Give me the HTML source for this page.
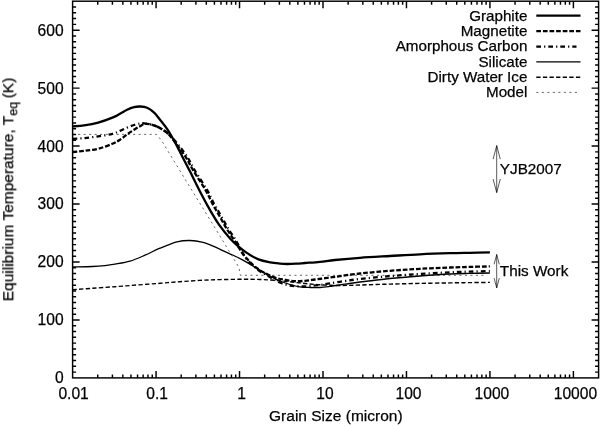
<!DOCTYPE html>
<html lang="en"><head><meta charset="utf-8"><title>Equilibrium Temperature vs Grain Size</title>
<style>html,body{margin:0;padding:0;background:#fff}body{width:600px;height:425px;overflow:hidden}svg{display:block}</style>
</head><body>
<svg width="600" height="425" viewBox="0 0 600 425">
<rect width="600" height="425" fill="#fff"/>
<g stroke="#000" stroke-width="1.45" fill="none">
<rect x="72.60" y="1.20" width="526.00" height="376.70"/>
<path d="M72.60,372.10 h3.50 M598.60,372.10 h-3.50 M72.60,366.31 h3.50 M598.60,366.31 h-3.50 M72.60,360.51 h3.50 M598.60,360.51 h-3.50 M72.60,354.72 h3.50 M598.60,354.72 h-3.50 M72.60,348.92 h3.50 M598.60,348.92 h-3.50 M72.60,343.13 h3.50 M598.60,343.13 h-3.50 M72.60,337.33 h3.50 M598.60,337.33 h-3.50 M72.60,331.54 h3.50 M598.60,331.54 h-3.50 M72.60,325.74 h3.50 M598.60,325.74 h-3.50 M72.60,319.95 h7.00 M598.60,319.95 h-7.00 M72.60,314.15 h3.50 M598.60,314.15 h-3.50 M72.60,308.36 h3.50 M598.60,308.36 h-3.50 M72.60,302.56 h3.50 M598.60,302.56 h-3.50 M72.60,296.76 h3.50 M598.60,296.76 h-3.50 M72.60,290.97 h3.50 M598.60,290.97 h-3.50 M72.60,285.17 h3.50 M598.60,285.17 h-3.50 M72.60,279.38 h3.50 M598.60,279.38 h-3.50 M72.60,273.58 h3.50 M598.60,273.58 h-3.50 M72.60,267.79 h3.50 M598.60,267.79 h-3.50 M72.60,261.99 h7.00 M598.60,261.99 h-7.00 M72.60,256.20 h3.50 M598.60,256.20 h-3.50 M72.60,250.40 h3.50 M598.60,250.40 h-3.50 M72.60,244.61 h3.50 M598.60,244.61 h-3.50 M72.60,238.81 h3.50 M598.60,238.81 h-3.50 M72.60,233.02 h3.50 M598.60,233.02 h-3.50 M72.60,227.22 h3.50 M598.60,227.22 h-3.50 M72.60,221.42 h3.50 M598.60,221.42 h-3.50 M72.60,215.63 h3.50 M598.60,215.63 h-3.50 M72.60,209.83 h3.50 M598.60,209.83 h-3.50 M72.60,204.04 h7.00 M598.60,204.04 h-7.00 M72.60,198.24 h3.50 M598.60,198.24 h-3.50 M72.60,192.45 h3.50 M598.60,192.45 h-3.50 M72.60,186.65 h3.50 M598.60,186.65 h-3.50 M72.60,180.86 h3.50 M598.60,180.86 h-3.50 M72.60,175.06 h3.50 M598.60,175.06 h-3.50 M72.60,169.27 h3.50 M598.60,169.27 h-3.50 M72.60,163.47 h3.50 M598.60,163.47 h-3.50 M72.60,157.68 h3.50 M598.60,157.68 h-3.50 M72.60,151.88 h3.50 M598.60,151.88 h-3.50 M72.60,146.08 h7.00 M598.60,146.08 h-7.00 M72.60,140.29 h3.50 M598.60,140.29 h-3.50 M72.60,134.49 h3.50 M598.60,134.49 h-3.50 M72.60,128.70 h3.50 M598.60,128.70 h-3.50 M72.60,122.90 h3.50 M598.60,122.90 h-3.50 M72.60,117.11 h3.50 M598.60,117.11 h-3.50 M72.60,111.31 h3.50 M598.60,111.31 h-3.50 M72.60,105.52 h3.50 M598.60,105.52 h-3.50 M72.60,99.72 h3.50 M598.60,99.72 h-3.50 M72.60,93.93 h3.50 M598.60,93.93 h-3.50 M72.60,88.13 h7.00 M598.60,88.13 h-7.00 M72.60,82.34 h3.50 M598.60,82.34 h-3.50 M72.60,76.54 h3.50 M598.60,76.54 h-3.50 M72.60,70.74 h3.50 M598.60,70.74 h-3.50 M72.60,64.95 h3.50 M598.60,64.95 h-3.50 M72.60,59.15 h3.50 M598.60,59.15 h-3.50 M72.60,53.36 h3.50 M598.60,53.36 h-3.50 M72.60,47.56 h3.50 M598.60,47.56 h-3.50 M72.60,41.77 h3.50 M598.60,41.77 h-3.50 M72.60,35.97 h3.50 M598.60,35.97 h-3.50 M72.60,30.18 h7.00 M598.60,30.18 h-7.00 M72.60,24.38 h3.50 M598.60,24.38 h-3.50 M72.60,18.59 h3.50 M598.60,18.59 h-3.50 M72.60,12.79 h3.50 M598.60,12.79 h-3.50 M72.60,7.00 h3.50 M598.60,7.00 h-3.50 M97.73,377.90 v-3.50 M97.73,1.20 v3.50 M112.42,377.90 v-3.50 M112.42,1.20 v3.50 M122.85,377.90 v-3.50 M122.85,1.20 v3.50 M130.94,377.90 v-3.50 M130.94,1.20 v3.50 M137.55,377.90 v-3.50 M137.55,1.20 v3.50 M143.14,377.90 v-3.50 M143.14,1.20 v3.50 M147.98,377.90 v-3.50 M147.98,1.20 v3.50 M152.25,377.90 v-3.50 M152.25,1.20 v3.50 M156.07,377.90 v-7.00 M156.07,1.20 v7.00 M181.19,377.90 v-3.50 M181.19,1.20 v3.50 M195.89,377.90 v-3.50 M195.89,1.20 v3.50 M206.32,377.90 v-3.50 M206.32,1.20 v3.50 M214.41,377.90 v-3.50 M214.41,1.20 v3.50 M221.02,377.90 v-3.50 M221.02,1.20 v3.50 M226.60,377.90 v-3.50 M226.60,1.20 v3.50 M231.44,377.90 v-3.50 M231.44,1.20 v3.50 M235.71,377.90 v-3.50 M235.71,1.20 v3.50 M239.53,377.90 v-7.00 M239.53,1.20 v7.00 M264.66,377.90 v-3.50 M264.66,1.20 v3.50 M279.36,377.90 v-3.50 M279.36,1.20 v3.50 M289.79,377.90 v-3.50 M289.79,1.20 v3.50 M297.87,377.90 v-3.50 M297.87,1.20 v3.50 M304.48,377.90 v-3.50 M304.48,1.20 v3.50 M310.07,377.90 v-3.50 M310.07,1.20 v3.50 M314.91,377.90 v-3.50 M314.91,1.20 v3.50 M319.18,377.90 v-3.50 M319.18,1.20 v3.50 M323.00,377.90 v-7.00 M323.00,1.20 v7.00 M348.13,377.90 v-3.50 M348.13,1.20 v3.50 M362.82,377.90 v-3.50 M362.82,1.20 v3.50 M373.25,377.90 v-3.50 M373.25,1.20 v3.50 M381.34,377.90 v-3.50 M381.34,1.20 v3.50 M387.95,377.90 v-3.50 M387.95,1.20 v3.50 M393.54,377.90 v-3.50 M393.54,1.20 v3.50 M398.38,377.90 v-3.50 M398.38,1.20 v3.50 M402.65,377.90 v-3.50 M402.65,1.20 v3.50 M406.47,377.90 v-7.00 M406.47,1.20 v7.00 M431.59,377.90 v-3.50 M431.59,1.20 v3.50 M446.29,377.90 v-3.50 M446.29,1.20 v3.50 M456.72,377.90 v-3.50 M456.72,1.20 v3.50 M464.81,377.90 v-3.50 M464.81,1.20 v3.50 M471.42,377.90 v-3.50 M471.42,1.20 v3.50 M477.00,377.90 v-3.50 M477.00,1.20 v3.50 M481.84,377.90 v-3.50 M481.84,1.20 v3.50 M486.11,377.90 v-3.50 M486.11,1.20 v3.50 M489.93,377.90 v-7.00 M489.93,1.20 v7.00 M515.06,377.90 v-3.50 M515.06,1.20 v3.50 M529.76,377.90 v-3.50 M529.76,1.20 v3.50 M540.19,377.90 v-3.50 M540.19,1.20 v3.50 M548.27,377.90 v-3.50 M548.27,1.20 v3.50 M554.88,377.90 v-3.50 M554.88,1.20 v3.50 M560.47,377.90 v-3.50 M560.47,1.20 v3.50 M565.31,377.90 v-3.50 M565.31,1.20 v3.50 M569.58,377.90 v-3.50 M569.58,1.20 v3.50 M573.40,377.90 v-7.00 M573.40,1.20 v7.00"/>
</g>
<g fill="none" stroke="#000" stroke-linejoin="round">
<path d="M72.60,126.40 C74.52,126.23 79.83,126.03 84.10,125.40 C88.37,124.77 93.48,123.90 98.20,122.60 C102.92,121.30 108.77,119.07 112.40,117.60 C116.03,116.13 117.55,115.12 120.00,113.80 C122.45,112.48 124.75,110.82 127.10,109.70 C129.45,108.58 131.95,107.63 134.10,107.10 C136.25,106.57 137.83,106.40 140.00,106.50 C142.17,106.60 144.75,106.68 147.10,107.70 C149.45,108.72 151.95,110.60 154.10,112.60 C156.25,114.60 157.78,116.92 160.00,119.70 C162.22,122.48 164.92,125.57 167.40,129.30 C169.88,133.03 172.47,137.65 174.90,142.10 C177.33,146.55 179.52,151.17 182.00,156.00 C184.48,160.83 186.93,165.43 189.80,171.10 C192.67,176.77 195.98,183.78 199.20,190.00 C202.42,196.22 205.80,202.63 209.10,208.40 C212.40,214.17 215.47,219.55 219.00,224.60 C222.53,229.65 227.05,235.07 230.30,238.70 C233.55,242.33 235.75,244.03 238.50,246.40 C241.25,248.77 243.47,250.73 246.80,252.90 C250.13,255.07 254.58,257.82 258.50,259.40 C262.42,260.98 266.72,261.70 270.30,262.40 C273.88,263.10 277.22,263.33 280.00,263.60 C282.78,263.87 284.33,263.98 287.00,264.00 C289.67,264.02 293.00,263.87 296.00,263.70 C299.00,263.53 301.00,263.32 305.00,263.00 C309.00,262.68 315.00,262.30 320.00,261.80 C325.00,261.30 328.33,260.67 335.00,260.00 C341.67,259.33 350.83,258.47 360.00,257.80 C369.17,257.13 380.00,256.58 390.00,256.00 C400.00,255.42 410.00,254.77 420.00,254.30 C430.00,253.83 441.67,253.45 450.00,253.20 C458.33,252.95 463.35,252.93 470.00,252.80 C476.65,252.67 486.58,252.47 489.90,252.40" stroke-width="2.3"/>
<path d="M72.60,152.00 C74.52,151.80 79.83,151.35 84.10,150.80 C88.37,150.25 93.48,149.87 98.20,148.70 C102.92,147.53 108.77,145.30 112.40,143.80 C116.03,142.30 117.55,141.27 120.00,139.70 C122.45,138.13 124.75,136.07 127.10,134.40 C129.45,132.73 131.95,131.07 134.10,129.70 C136.25,128.33 138.23,127.15 140.00,126.20 C141.77,125.25 142.93,124.30 144.70,124.00 C146.47,123.70 148.45,123.93 150.60,124.40 C152.75,124.87 155.45,125.82 157.60,126.80 C159.75,127.78 161.73,129.13 163.50,130.30 C165.27,131.47 166.02,131.47 168.20,133.80 C170.38,136.13 173.63,140.33 176.58,144.26 C179.53,148.19 183.10,152.95 185.91,157.37 C188.71,161.79 190.10,165.27 193.41,170.77 C196.71,176.27 202.47,184.75 205.71,190.37 C208.94,195.99 210.46,200.12 212.81,204.47 C215.16,208.82 217.46,212.35 219.81,216.47 C222.16,220.59 224.56,225.29 226.91,229.17 C229.25,233.05 232.14,237.03 233.91,239.77 C235.67,242.51 236.17,243.53 237.50,245.61 C238.84,247.69 240.35,250.10 241.90,252.26 C243.45,254.43 245.02,256.54 246.80,258.60 C248.58,260.66 250.65,262.82 252.60,264.60 C254.55,266.38 256.33,267.83 258.50,269.30 C260.67,270.77 262.85,272.02 265.60,273.40 C268.35,274.78 271.77,276.53 275.00,277.60 C278.23,278.67 281.67,279.20 285.00,279.80 C288.33,280.40 291.67,281.03 295.00,281.20 C298.33,281.37 301.67,281.08 305.00,280.80 C308.33,280.52 311.67,279.93 315.00,279.50 C318.33,279.07 321.67,278.65 325.00,278.20 C328.33,277.75 329.17,277.58 335.00,276.80 C340.83,276.02 350.83,274.50 360.00,273.50 C369.17,272.50 380.00,271.58 390.00,270.80 C400.00,270.02 410.00,269.35 420.00,268.80 C430.00,268.25 441.67,267.82 450.00,267.50 C458.33,267.18 463.35,267.08 470.00,266.90 C476.65,266.72 486.58,266.48 489.90,266.40" stroke-width="2.3" stroke-dasharray="4.7,1.9"/>
<path d="M72.60,138.80 C74.52,138.68 79.83,138.50 84.10,138.10 C88.37,137.70 93.48,137.10 98.20,136.40 C102.92,135.70 108.77,134.82 112.40,133.90 C116.03,132.98 117.55,131.95 120.00,130.90 C122.45,129.85 124.75,128.58 127.10,127.60 C129.45,126.62 131.95,125.67 134.10,125.00 C136.25,124.33 138.35,123.88 140.00,123.60 C141.65,123.32 142.23,123.17 144.00,123.30 C145.77,123.43 148.33,123.82 150.60,124.40 C152.87,124.98 155.45,125.82 157.60,126.80 C159.75,127.78 161.73,129.13 163.50,130.30 C165.27,131.47 165.88,131.56 168.20,133.80 C170.52,136.04 174.27,139.94 177.42,143.74 C180.57,147.55 184.23,152.25 187.09,156.63 C189.96,161.01 191.29,164.53 194.59,170.03 C197.90,175.53 203.66,184.01 206.90,189.63 C210.13,195.25 211.65,199.38 214.00,203.73 C216.34,208.08 218.65,211.61 221.00,215.73 C223.34,219.85 225.75,224.55 228.09,228.43 C230.44,232.31 233.36,236.27 235.09,239.03 C236.83,241.79 237.33,242.74 238.50,244.99 C239.66,247.24 240.72,250.17 242.10,252.54 C243.48,254.91 245.05,257.07 246.80,259.20 C248.55,261.33 250.65,263.47 252.60,265.30 C254.55,267.13 256.33,268.65 258.50,270.20 C260.67,271.75 263.25,273.20 265.60,274.60 C267.95,276.00 270.03,277.20 272.60,278.60 C275.17,280.00 278.10,281.85 281.00,283.00 C283.90,284.15 286.83,284.92 290.00,285.50 C293.17,286.08 296.67,286.42 300.00,286.50 C303.33,286.58 306.67,286.25 310.00,286.00 C313.33,285.75 316.67,285.45 320.00,285.00 C323.33,284.55 325.83,283.97 330.00,283.30 C334.17,282.63 340.00,281.72 345.00,281.00 C350.00,280.28 352.50,279.82 360.00,279.00 C367.50,278.18 380.00,276.93 390.00,276.10 C400.00,275.27 410.00,274.63 420.00,274.00 C430.00,273.37 441.67,272.70 450.00,272.30 C458.33,271.90 463.35,271.80 470.00,271.60 C476.65,271.40 486.58,271.18 489.90,271.10" stroke-width="2.3" stroke-dasharray="4.7,3.1,1.2,3.0"/>
<path d="M72.60,266.90 C75.92,266.83 87.10,266.72 92.50,266.50 C97.90,266.28 101.25,265.98 105.00,265.60 C108.75,265.22 110.83,264.93 115.00,264.20 C119.17,263.47 125.00,262.70 130.00,261.20 C135.00,259.70 140.00,257.37 145.00,255.20 C150.00,253.03 154.67,250.42 160.00,248.20 C165.33,245.98 172.00,243.18 177.00,241.90 C182.00,240.62 185.67,240.42 190.00,240.50 C194.33,240.58 199.17,241.45 203.00,242.40 C206.83,243.35 209.33,244.65 213.00,246.20 C216.67,247.75 221.73,250.23 225.00,251.70 C228.27,253.17 229.77,253.68 232.60,255.00 C235.43,256.32 239.05,258.03 242.00,259.60 C244.95,261.17 247.30,262.63 250.30,264.40 C253.30,266.17 256.72,268.27 260.00,270.20 C263.28,272.13 266.67,274.20 270.00,276.00 C273.33,277.80 276.67,279.58 280.00,281.00 C283.33,282.42 286.67,283.53 290.00,284.50 C293.33,285.47 296.67,286.30 300.00,286.80 C303.33,287.30 306.67,287.38 310.00,287.50 C313.33,287.62 316.67,287.68 320.00,287.50 C323.33,287.32 325.83,286.95 330.00,286.40 C334.17,285.85 340.00,284.93 345.00,284.20 C350.00,283.47 352.50,282.95 360.00,282.00 C367.50,281.05 380.00,279.50 390.00,278.50 C400.00,277.50 410.00,276.75 420.00,276.00 C430.00,275.25 441.67,274.43 450.00,274.00 C458.33,273.57 463.35,273.57 470.00,273.40 C476.65,273.23 486.58,273.07 489.90,273.00" stroke-width="1.3"/>
<path d="M72.60,289.70 C75.83,289.47 84.93,288.80 92.00,288.30 C99.07,287.80 107.50,287.25 115.00,286.70 C122.50,286.15 129.50,285.57 137.00,285.00 C144.50,284.43 152.83,283.85 160.00,283.30 C167.17,282.75 171.67,282.27 180.00,281.70 C188.33,281.13 200.00,280.30 210.00,279.90 C220.00,279.50 231.67,279.37 240.00,279.30 C248.33,279.23 254.17,279.33 260.00,279.50 C265.83,279.67 270.00,279.92 275.00,280.30 C280.00,280.68 285.00,281.27 290.00,281.80 C295.00,282.33 300.00,283.00 305.00,283.50 C310.00,284.00 314.17,284.47 320.00,284.80 C325.83,285.13 333.33,285.47 340.00,285.50 C346.67,285.53 351.67,285.23 360.00,285.00 C368.33,284.77 380.00,284.37 390.00,284.10 C400.00,283.83 410.00,283.60 420.00,283.40 C430.00,283.20 441.67,283.03 450.00,282.90 C458.33,282.77 463.35,282.68 470.00,282.60 C476.65,282.52 486.58,282.43 489.90,282.40" stroke-width="1.4" stroke-dasharray="4.3,2.3"/>
<path d="M72.60,134.40 L156.60,134.40 L161.80,140.90 L181.80,173.80 L221.40,238.40 L238.80,267.20 L240.40,275.30 L485.50,275.30" stroke-width="0.6" stroke-dasharray="2.1,3.4"/>
<path d="M536.3,15.7 H580.5" stroke-width="2.3"/>
<path d="M536.3,31.2 H580.5" stroke-width="2.3" stroke-dasharray="4.7,1.9"/>
<path d="M536.3,46.6 H576.5" stroke-width="2.3" stroke-dasharray="4.7,3.1,1.2,3.0"/>
<path d="M536.3,61.9 H580.5" stroke-width="1.3"/>
<path d="M536.3,77.2 H580.5" stroke-width="1.4" stroke-dasharray="4.3,2.3"/>
<path d="M536.3,92.4 H577.3" stroke-width="0.6" stroke-dasharray="2.1,3.4"/>
<path d="M496.7,145.6 V192.6 M493.1,159.2 L496.7,145.6 L500.3,159.2 M493.1,179.0 L496.7,192.6 L500.3,179.0" stroke-width="0.65" stroke-linejoin="miter"/>
<path d="M496.7,254.5 V287.9 M494.1,264.3 L496.7,254.5 L499.3,264.3 M494.1,278.1 L496.7,287.9 L499.3,278.1" stroke-width="0.65" stroke-linejoin="miter"/>
</g>
<g font-family="'Liberation Sans', Arial, Helvetica, sans-serif" font-size="15.3" fill="#000" stroke="#000" stroke-width="0.25" opacity="0.999">
<text x="63.6" y="383.35" font-size="15.6" text-anchor="end">0</text>
<text x="63.6" y="325.40" font-size="15.6" text-anchor="end">100</text>
<text x="63.6" y="267.44" font-size="15.6" text-anchor="end">200</text>
<text x="63.6" y="209.49" font-size="15.6" text-anchor="end">300</text>
<text x="63.6" y="151.53" font-size="15.6" text-anchor="end">400</text>
<text x="63.6" y="93.58" font-size="15.6" text-anchor="end">500</text>
<text x="63.6" y="35.63" font-size="15.6" text-anchor="end">600</text>
<text x="73.60" y="398.5" font-size="15.6" text-anchor="middle">0.01</text>
<text x="157.07" y="398.5" font-size="15.6" text-anchor="middle">0.1</text>
<text x="241.53" y="398.5" font-size="15.6" text-anchor="middle">1</text>
<text x="325.00" y="398.5" font-size="15.6" text-anchor="middle">10</text>
<text x="408.47" y="398.5" font-size="15.6" text-anchor="middle">100</text>
<text x="491.93" y="398.5" font-size="15.6" text-anchor="middle">1000</text>
<text x="575.40" y="398.5" font-size="15.6" text-anchor="middle">10000</text>
<text x="335.8" y="420.8" font-size="15.5" text-anchor="middle">Grain Size (micron)</text>
<text transform="translate(13.2,189.5) rotate(-90)" font-size="15.5" text-anchor="middle">Equilibrium Temperature, T<tspan font-size="12.6" dy="4.2">eq</tspan><tspan dy="-4.2" dx="-0.9"> (K)</tspan></text>
<text x="527.4" y="21.00" font-size="15.2" text-anchor="end">Graphite</text>
<text x="527.4" y="36.20" font-size="15.2" text-anchor="end">Magnetite</text>
<text x="527.4" y="51.40" font-size="15.2" text-anchor="end">Amorphous Carbon</text>
<text x="527.4" y="66.60" font-size="15.2" text-anchor="end">Silicate</text>
<text x="527.4" y="81.80" font-size="15.2" text-anchor="end">Dirty Water Ice</text>
<text x="527.4" y="97.00" font-size="15.2" text-anchor="end">Model</text>
<text x="499.8" y="174.20">YJB2007</text>
<text x="499.8" y="276.30">This Work</text>
</g>
</svg>
</body></html>
